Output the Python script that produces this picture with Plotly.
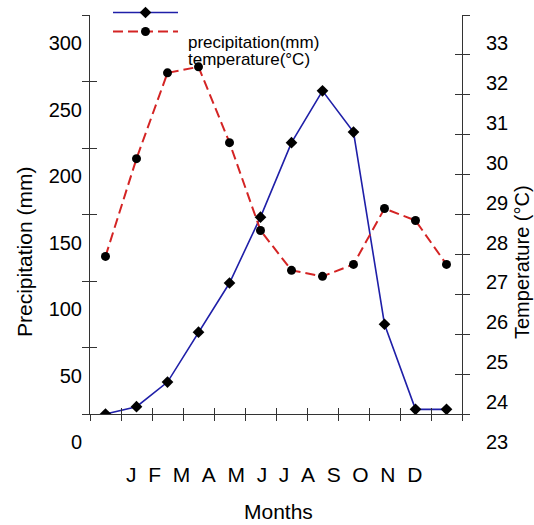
import plotly.graph_objects as go

# ---- data ----
months = ["J", "F", "M", "A", "M", "J", "J", "A", "S", "O", "N", "D"]
month_index = list(range(1, 13))
precipitation = [0, 5.5, 24, 61.5, 98.5, 148, 204, 243, 212, 67.5, 3.5, 3.5]
temperature = [26.95, 29.4, 31.55, 31.7, 29.8, 27.6, 26.6, 26.45, 26.75, 28.15, 27.85, 26.75]
precip_ticks = [0, 50, 100, 150, 200, 250, 300]
temp_ticks = [23, 24, 25, 26, 27, 28, 29, 30, 31, 32, 33]
month_bounds = [i + 0.5 for i in range(0, 13)]
series_names = ["precipitation(mm)", "temperature(°C)"]

W, H = 534, 525
ML, MR, MT, MB = 90, 72, 15, 111
PW, PH = W - ML - MR, H - MT - MB


def px(x):
    """window pixel x -> paper fraction"""
    return (x - ML) / PW


def py(y):
    """window pixel y -> paper fraction"""
    return 1 - (y - MT) / PH


FONT = "Liberation Sans, Arial, sans-serif"
AX = "#333333"

fig = go.Figure()
fig.add_trace(go.Scatter(
    x=month_index, y=precipitation, name="", mode="lines+markers",
    line=dict(color="#1f1fa8", width=1.6),
    marker=dict(symbol="diamond", size=9, color="black"),
    xaxis="x", yaxis="y", showlegend=True,
))
fig.add_trace(go.Scatter(
    x=month_index, y=temperature, name="", mode="lines+markers",
    line=dict(color="#d42424", width=2, dash="10px,5px"),
    marker=dict(symbol="circle", size=9, color="black"),
    xaxis="x", yaxis="y2", showlegend=True,
))
# empty helper traces so the inward tick axes are drawn
fig.add_trace(go.Scatter(x=[], y=[], xaxis="x2", yaxis="y3", showlegend=False, hoverinfo="skip"))
fig.add_trace(go.Scatter(x=[], y=[], xaxis="x", yaxis="y4", showlegend=False, hoverinfo="skip"))

common = dict(showgrid=False, zeroline=False, tickcolor=AX, tickwidth=1, linecolor=AX, linewidth=1)

fig.update_layout(
    width=W, height=H,
    margin=dict(l=ML, r=MR, t=MT, b=MB, pad=0, autoexpand=False),
    paper_bgcolor="white", plot_bgcolor="white",
    font=dict(family=FONT, size=20, color="black"),
    xaxis=dict(range=[0.5, 12.5], tickvals=month_bounds, ticks="outside", ticklen=6,
               showticklabels=False, showline=True, **common),
    xaxis2=dict(range=[0.5, 12.5], overlaying="x", anchor="y", tickvals=month_bounds,
                ticks="inside", ticklen=6, showticklabels=False, showline=False, **common),
    yaxis=dict(range=[0, 300], tickvals=precip_ticks, ticks="outside", ticklen=7,
               showline=True, ticklabelshift=28, ticklabelstandoff=-4,
               tickfont=dict(size=20), **common),
    yaxis3=dict(range=[0, 300], overlaying="y", side="left", anchor="x", tickvals=precip_ticks,
                ticks="inside", ticklen=7, showticklabels=False, showline=False, **common),
    yaxis2=dict(range=[23, 33], overlaying="y", side="right", anchor="x", tickvals=temp_ticks,
                ticks="outside", ticklen=7, showline=True, ticklabelshift=28,
                ticklabelstandoff=12, tickfont=dict(size=20), **common),
    yaxis4=dict(range=[23, 33], overlaying="y", side="right", anchor="x", tickvals=temp_ticks,
                ticks="inside", ticklen=7, showticklabels=False, showline=False, **common),
    legend=dict(x=px(108), y=py(-2), xanchor="left", yanchor="top", itemwidth=65,
                font=dict(size=10), bgcolor="rgba(0,0,0,0)", borderwidth=0,
                tracegroupgap=0),
)

annots = [
    dict(text=series_names[0], x=px(186), y=py(42), xanchor="left", yanchor="middle",
         font=dict(size=17)),
    dict(text=series_names[1], x=px(186), y=py(60), xanchor="left", yanchor="middle",
         font=dict(size=17)),
    dict(text="\u00a0\u00a0".join(months), x=px(274), y=py(474), xanchor="center",
         yanchor="middle", font=dict(size=21)),
    dict(text="Months", x=px(278), y=py(511), xanchor="center", yanchor="middle",
         font=dict(size=21)),
    dict(text="Precipitation (mm)", x=px(24), y=py(252), textangle=-90, xanchor="center",
         yanchor="middle", font=dict(size=21)),
    dict(text="Temperature (°C)", x=px(522), y=py(262), textangle=-90, xanchor="center",
         yanchor="middle", font=dict(size=20)),
]
for a in annots:
    fig.add_annotation(xref="paper", yref="paper", showarrow=False, **a)

# remove the browser's default 8px body margin so the 534x525 figure fills the window
fig.write_html("out.html", config={"displayModeBar": False},
               post_script="document.body.style.margin='0px';")
